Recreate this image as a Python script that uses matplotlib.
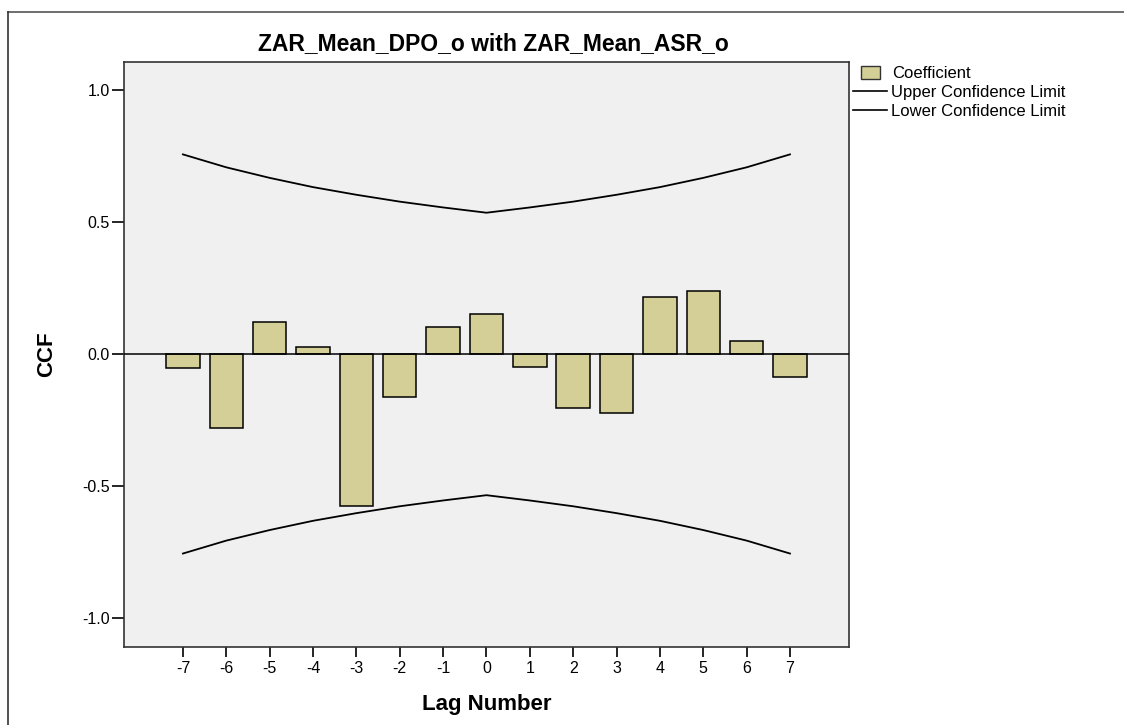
import matplotlib.pyplot as plt
from matplotlib.lines import Line2D
from matplotlib.patches import Rectangle

plt.rcParams['font.family'] = ['Liberation Sans', 'DejaVu Sans']

# Cross-correlation coefficients by lag
lags = [-7, -6, -5, -4, -3, -2, -1, 0, 1, 2, 3, 4, 5, 6, 7]
coef = [-0.052, -0.282, 0.121, 0.025, -0.576, -0.163, 0.102, 0.152,
        -0.049, -0.205, -0.225, 0.215, 0.239, 0.049, -0.088]
upper = [0.756, 0.707, 0.667, 0.632, 0.603, 0.577, 0.555, 0.535,
         0.555, 0.577, 0.603, 0.632, 0.667, 0.707, 0.756]
lower = [-u for u in upper]
yticks = [-1.0, -0.5, 0.0, 0.5, 1.0]

bar_color = '#d3cf96'
bg = '#f0f0f0'

fig = plt.figure(figsize=(11.24, 7.25), dpi=100)
ax = fig.add_axes([0.1103, 0.1076, 0.6450, 0.8069])
ax.set_facecolor(bg)

ax.bar(lags, coef, width=0.77, color=bar_color, edgecolor='black', linewidth=1.1, zorder=2)
ax.axhline(0, color='black', linewidth=1.1, zorder=3)
ax.plot(lags, upper, color='black', linewidth=1.3, zorder=3)
ax.plot(lags, lower, color='black', linewidth=1.3, zorder=3)

ax.set_xlim(-8.36, 8.36)
ax.set_ylim(-1.11, 1.106)
ax.set_xticks(lags)
ax.set_xticklabels([str(l) for l in lags])
ax.set_yticks(yticks)
ax.set_yticklabels(['%.1f' % t for t in yticks])
ax.tick_params(direction='out', width=1.2, labelsize=11.5, colors='black')
ax.tick_params(axis='x', length=7, pad=3)
ax.tick_params(axis='y', length=8.5, pad=1.5)
for s in ax.spines.values():
    s.set_color('#333333')
    s.set_linewidth(1.2)

ax.set_xlabel('Lag Number', fontsize=16, fontweight='bold', labelpad=13)
ax.set_ylabel('CCF', fontsize=16, fontweight='bold', labelpad=18)

W, H = 1124, 725
fig.text(493 / W, 1 - 44 / H, 'ZAR_Mean_DPO_o with ZAR_Mean_ASR_o', fontsize=16.5,
         fontweight='bold', ha='center', va='center')

# legend drawn beside the plot area
fig.add_artist(Rectangle((861 / W, 1 - 79 / H), 19 / W, 13 / H, transform=fig.transFigure,
                         facecolor=bar_color, edgecolor='#333333', linewidth=1))
fig.text(892 / W, 1 - 73 / H, 'Coefficient', fontsize=12, va='center', ha='left')
fig.add_artist(Line2D([853 / W, 887 / W], [1 - 91 / H, 1 - 91 / H], transform=fig.transFigure,
                      color='black', linewidth=1.2))
fig.text(891 / W, 1 - 92 / H, 'Upper Confidence Limit', fontsize=12, va='center', ha='left')
fig.add_artist(Line2D([853 / W, 887 / W], [1 - 110 / H, 1 - 110 / H], transform=fig.transFigure,
                      color='black', linewidth=1.2))
fig.text(891 / W, 1 - 112 / H, 'Lower Confidence Limit', fontsize=12, va='center', ha='left')

# outer frame lines along the top and left
fig.add_artist(Line2D([8 / W, 1], [1 - 12 / H, 1 - 12 / H], transform=fig.transFigure,
                      color='#555555', linewidth=1.2))
fig.add_artist(Line2D([8 / W, 8 / W], [0, 1 - 12 / H], transform=fig.transFigure,
                      color='#333333', linewidth=1.2))

fig.savefig('out.png', dpi=100, facecolor='white')
